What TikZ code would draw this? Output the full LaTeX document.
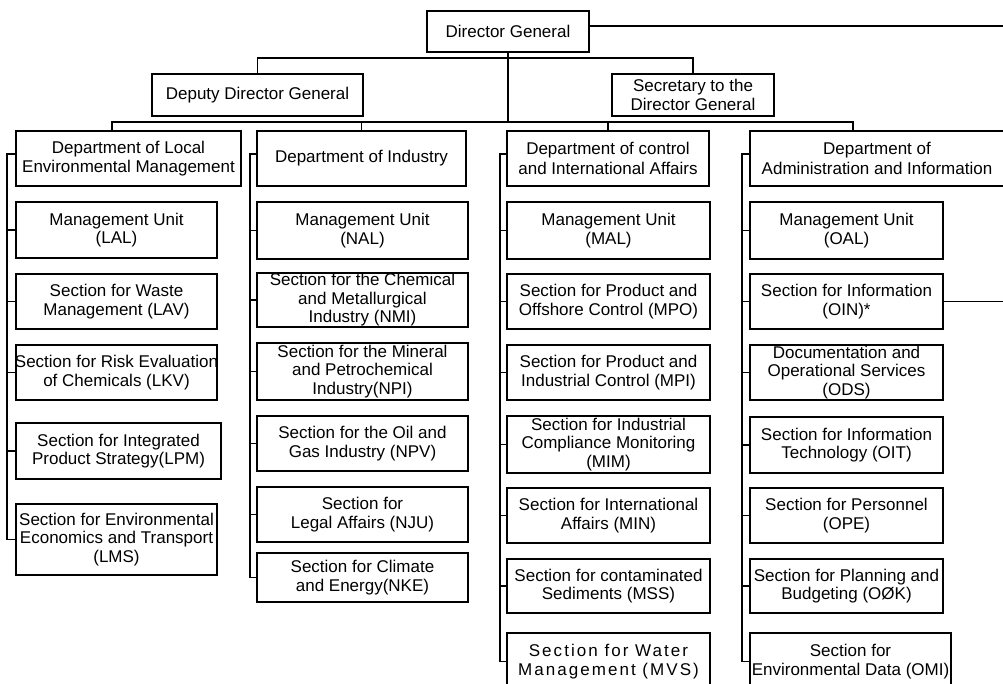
\documentclass[tikz,border=0pt]{standalone}
\usepackage{fontspec}
\setmainfont{Liberation Sans}
\usepackage{tikz}
\tikzset{
	unitbox/.style={draw, rectangle, inner sep=0pt, line width=1.2pt},
	unittext/.style={align=center, inner sep=0pt, font=\fontsize{17}{18.5}\selectfont},
	link/.style={line width=1.2pt}
}
\newcommand{\orgunit}[7][]{% [text options]{name}{left}{top}{right}{bottom}{text}
	\pgfmathsetmacro{\ouw}{#5-#3}%
	\pgfmathsetmacro{\ouh}{#6-#4}%
	\node[unitbox, minimum width=\ouw pt, minimum height=\ouh pt] (#2) at ({(#3+#5)/2},{(#4+#6)/2}) {}; % frame
	\node[unittext, #1] (#2-txt) at (#2.center) {#7} % label
}

\begin{document}
\begin{tikzpicture}[x=1pt, y=-1pt]
	\useasboundingbox (0,0) rectangle (1003,684);

	% top management
	\orgunit{dg}{427}{11}{589}{52}{Director General};
	\orgunit{ddg}{152}{74}{363}{116}{Deputy Director General};
	\orgunit{sec}{612}{74}{774}{116}{Secretary to the\\Director General};

	% departments
	\orgunit[font=\fontsize{17}{19.5}\selectfont]{dlm}{16}{131}{241}{186}{Department of Local\\Environmental Management};
	\orgunit{dind}{257}{131}{466}{186}{Department of Industry};
	\orgunit[font=\fontsize{17}{19.5}\selectfont]{dcia}{507}{131}{709}{186}{Department of control\\and International Affairs};
	\orgunit[font=\fontsize{17}{19.5}\selectfont]{dai}{750}{131}{1004}{186}{Department of\\Administration and Information};

	% local environmental management
	\orgunit{lal}{16}{202}{217}{258}{Management Unit\\(LAL)};
	\orgunit{lav}{16}{274}{217}{329}{Section for Waste\\Management (LAV)};
	\orgunit{lkv}{16}{345}{217}{400}{Section for Risk Evaluation\\of Chemicals (LKV)};
	\orgunit{lpm}{16}{423}{221}{479}{Section for Integrated\\Product Strategy(LPM)};
	\orgunit{lms}{16}{504}{217}{575}{Section for Environmental\\Economics and Transport\\(LMS)};

	% industry
	\orgunit{nal}{257}{202}{468}{259}{Management Unit\\(NAL)};
	\orgunit{nmi}{257}{273}{468}{327}{Section for the Chemical\\and Metallurgical\\Industry (NMI)};
	\orgunit{npi}{257}{343}{468}{400}{Section for the Mineral\\and Petrochemical\\Industry(NPI)};
	\orgunit{npv}{257}{416}{468}{471}{Section for the Oil and\\Gas Industry (NPV)};
	\orgunit{nju}{257}{487}{468}{542}{Section for\\Legal Affairs (NJU)};
	\orgunit{nke}{257}{553}{468}{602}{Section for Climate\\and Energy(NKE)};

	% control and international affairs
	\orgunit{mal}{507}{202}{710}{259}{Management Unit\\(MAL)};
	\orgunit{mpo}{507}{274}{710}{329}{Section for Product and\\Offshore Control (MPO)};
	\orgunit{mpi}{507}{345}{710}{400}{Section for Product and\\Industrial Control (MPI)};
	\orgunit{mim}{507}{416}{710}{473}{Section for Industrial\\Compliance Monitoring\\(MIM)};
	\orgunit{min}{507}{488}{710}{543}{Section for International\\Affairs (MIN)};
	\orgunit{mss}{507}{559}{710}{613}{Section for contaminated\\Sediments (MSS)};
	\orgunit[font=\fontsize{17}{19.5}\selectfont\addfontfeature{LetterSpace=12}]{mvs}{507}{633}{710}{690}{Section for Water\\Management (MVS)};

	% administration and information
	\orgunit{oal}{750}{202}{943}{259}{Management Unit\\(OAL)};
	\orgunit{oin}{750}{274}{943}{329}{Section for Information\\(OIN)*};
	\orgunit{ods}{750}{345}{943}{400}{Documentation and\\Operational Services\\(ODS)};
	\orgunit{oit}{750}{417}{943}{473}{Section for Information\\Technology (OIT)};
	\orgunit{ope}{750}{488}{943}{543}{Section for Personnel\\(OPE)};
	\orgunit{ook}{750}{559}{943}{613}{Section for Planning and\\Budgeting (OØK)};
	\orgunit{omi}{750}{633}{951}{690}{Section for\\Environmental Data (OMI)};

	% buses and free ends
	\coordinate (busa) at (0,58);
	\coordinate (busb) at (0,122);
	\coordinate (dlmtop) at (112,131);
	\coordinate (daitop) at (853,131);
	\coordinate (rim) at (1003,26);
	\coordinate (lspine) at (7,154);
	\coordinate (nspine) at (250,154);
	\coordinate (mspine) at (500,154);
	\coordinate (ospine) at (742,154);

	\draw[link] (dg.east |- rim) -- (rim);
	\draw[link] (oin.east) -- (oin.east -| rim);
	\draw[link] (ddg.north) -- (ddg.north |- busa) -| (sec.north);
	\draw[link] (dg.south) -- (dg.south |- busb);
	\draw[link] (dlmtop) -- (dlmtop |- busb) -- (daitop |- busb) -- (daitop);
	\draw[link] (dind.north) -- (dind.north |- busb);
	\draw[link] (dcia.north) -- (dcia.north |- busb);

	% branches
	\draw[link] (dlm.west |- lspine) -- (lspine) |- (lms.west);
	\foreach \u in {lal,lav,lkv,lpm}
		\draw[link] (lspine |- \u.west) -- (\u.west);
	\draw[link] (dind.west |- nspine) -- (nspine) |- (nke.west);
	\foreach \u in {nal,nmi,npi,npv,nju}
		\draw[link] (nspine |- \u.west) -- (\u.west);
	\draw[link] (dcia.west |- mspine) -- (mspine) |- (mvs.west);
	\foreach \u in {mal,mpo,mpi,mim,min,mss}
		\draw[link] (mspine |- \u.west) -- (\u.west);
	\draw[link] (dai.west |- ospine) -- (ospine) |- (omi.west);
	\foreach \u in {oal,oin,ods,oit,ope,ook}
		\draw[link] (ospine |- \u.west) -- (\u.west);
\end{tikzpicture}
\end{document}
